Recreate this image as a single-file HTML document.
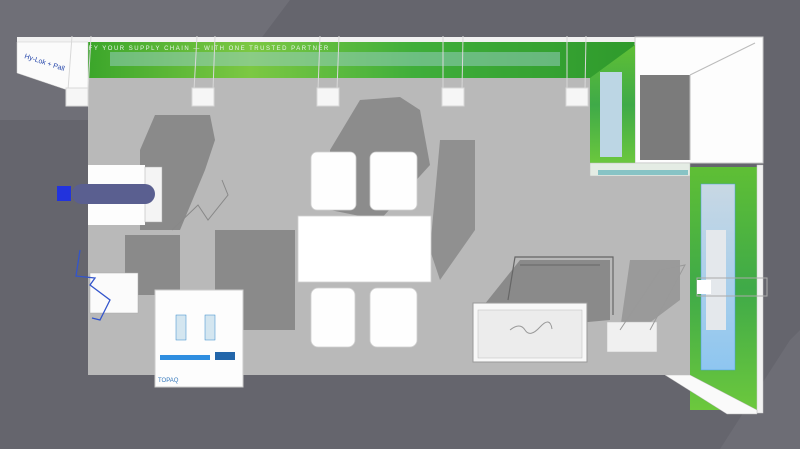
<!DOCTYPE html>
<html><head><meta charset="utf-8"><style>
html,body{margin:0;padding:0;background:#64646c;}
svg{display:block}
text{font-family:"Liberation Sans",sans-serif}
</style></head><body>
<svg width="800" height="449" viewBox="0 0 800 449" xmlns="http://www.w3.org/2000/svg">
<defs>
<linearGradient id="g1" x1="0" y1="0" x2="1" y2="0">
<stop offset="0" stop-color="#3aa52a"/><stop offset="0.3" stop-color="#7cc843"/><stop offset="0.6" stop-color="#3fae3a"/><stop offset="1" stop-color="#2f9a2c"/></linearGradient>
<linearGradient id="g2" x1="0" y1="0" x2="0" y2="1">
<stop offset="0" stop-color="#5fbf35"/><stop offset="0.5" stop-color="#3faa48"/><stop offset="1" stop-color="#6cc83d"/></linearGradient>
<linearGradient id="pst" x1="0" y1="0" x2="0" y2="1">
<stop offset="0" stop-color="#c8d8e4"/><stop offset="1" stop-color="#8ec6f0"/></linearGradient>
</defs>
<rect width="800" height="449" fill="#65656d"/>
<polygon points="0,0 290,0 200,120 0,120" fill="#6f6f77"/>
<polygon points="790,340 800,330 800,449 720,449" fill="#6d6d75"/>
<!-- floor -->
<rect x="88" y="77" width="602" height="298" fill="#b9b9b9"/>
<!-- shadows -->
<polygon points="155,115 210,115 215,140 205,170 180,230 140,230 140,150" fill="#8a8a8a"/>
<polygon points="360,100 400,97 420,110 430,165 380,220 330,210 330,150" fill="#8c8c8c"/>
<rect x="215" y="230" width="80" height="100" fill="#8a8a8a"/>
<rect x="125" y="235" width="55" height="60" fill="#8a8a8a"/>
<polygon points="440,140 475,140 475,230 440,280 430,250" fill="#909090"/>
<polygon points="520,260 610,260 610,320 500,330 480,310" fill="#8a8a8a"/>
<polygon points="630,260 680,260 680,300 640,330 620,330" fill="#9a9a9a"/>
<!-- top banner -->
<rect x="17" y="37" width="620" height="5" fill="#f2f2f2"/>
<rect x="85" y="42" width="550" height="36" fill="url(#g1)"/>
<rect x="110" y="52" width="450" height="14" fill="#9ad0c8" opacity="0.5"/>
<text x="60" y="50" font-size="6" fill="#e8f5e8" letter-spacing="1.5">SIMPLIFY YOUR SUPPLY CHAIN — WITH ONE TRUSTED PARTNER</text>
<polygon points="17,42 88,42 88,97 17,73" fill="#fbfbfb" stroke="#ccc" stroke-width="0.5"/>
<text x="24" y="58" font-size="7" fill="#2244aa" transform="rotate(18 24 58)">Hy-Lok + Pall</text>
<!-- lamps -->
<g stroke="#d8d8d8" stroke-width="1" fill="#f6f6f6">
<line x1="72" y1="36" x2="68" y2="90"/><line x1="91" y1="36" x2="88" y2="90"/><rect x="66" y="88" width="22" height="18"/>
<line x1="197" y1="36" x2="194" y2="90"/><line x1="215" y1="36" x2="213" y2="90"/><rect x="192" y="88" width="22" height="18"/>
<line x1="320" y1="36" x2="318" y2="90"/><line x1="339" y1="36" x2="337" y2="90"/><rect x="317" y="88" width="22" height="18"/>
<line x1="443" y1="36" x2="443" y2="90"/><line x1="463" y1="36" x2="462" y2="90"/><rect x="442" y="88" width="22" height="18"/>
<line x1="567" y1="36" x2="567" y2="90"/><line x1="586" y1="36" x2="585" y2="90"/><rect x="566" y="88" width="22" height="18"/>
</g>
<!-- storage room -->
<rect x="635" y="37" width="128" height="126" fill="#fdfdfd" stroke="#ccc"/>
<rect x="640" y="75" width="50" height="85" fill="#7b7b7b"/>
<line x1="690" y1="75" x2="755" y2="43" stroke="#bbb"/>
<line x1="690" y1="75" x2="690" y2="160" stroke="#bbb"/>
<polygon points="590,78 635,45 635,165 590,165" fill="url(#g2)"/>
<rect x="600" y="72" width="22" height="85" fill="#bcd6e4"/>
<rect x="590" y="163" width="100" height="13" fill="#e4ece4" stroke="#bbb" stroke-width="0.5"/>
<rect x="598" y="170" width="90" height="5" fill="#4aa8b0" opacity="0.6"/>
<!-- right wall -->
<rect x="690" y="167" width="67" height="243" fill="url(#g2)"/>
<rect x="757" y="165" width="6" height="248" fill="#f2f2f2" stroke="#ccc" stroke-width="0.5"/>
<rect x="701" y="184" width="34" height="186" fill="url(#pst)" stroke="#4aa0e0" stroke-width="0.5"/>
<rect x="706" y="230" width="20" height="100" fill="#e4e8ec"/>
<rect x="697" y="278" width="70" height="18" fill="none" stroke="#aaa"/>
<rect x="697" y="280" width="14" height="14" fill="#fff"/>
<polygon points="665,375 690,375 757,410 757,414 727,414" fill="#fafafa" stroke="#bbb" stroke-width="0.5"/>
<!-- chairs -->
<g fill="#fefefe" stroke="#cfcfcf" stroke-width="0.8">
<rect x="311" y="152" width="45" height="58" rx="6"/>
<rect x="370" y="152" width="47" height="58" rx="6"/>
<rect x="311" y="288" width="44" height="59" rx="7"/>
<rect x="370" y="288" width="47" height="59" rx="7"/>
<rect x="298" y="216" width="133" height="66" fill="#fff"/>
</g>
<!-- left desk -->
<rect x="88" y="165" width="57" height="60" fill="#fdfdfd"/>
<rect x="145" y="167" width="17" height="55" fill="#f4f4f4" stroke="#aaa" stroke-width="0.5"/>
<rect x="72" y="184" width="83" height="20" rx="10" fill="#5a5f90"/>
<rect x="57" y="186" width="14" height="15" fill="#2233dd"/>
<polyline points="222,180 228,195 208,220 198,205 172,230" fill="none" stroke="#888"/>
<!-- small cube -->
<rect x="90" y="273" width="48" height="40" fill="#fbfbfb" stroke="#aaa" stroke-width="0.5"/>
<polyline points="80,250 76,276 95,278 90,285 110,300 100,320 92,318" fill="none" stroke="#3355cc" stroke-width="1.3"/>
<!-- poster -->
<rect x="155" y="290" width="88" height="97" fill="#fdfdfd" stroke="#ccc"/>
<rect x="176" y="315" width="10" height="25" fill="#d4e6f0" stroke="#3388cc" stroke-width="0.5"/>
<rect x="205" y="315" width="10" height="25" fill="#d4e6f0" stroke="#3388cc" stroke-width="0.5"/>
<rect x="160" y="355" width="50" height="5" fill="#2f8ee0"/>
<rect x="215" y="352" width="20" height="8" fill="#2266aa"/>
<text x="158" y="382" font-size="6" fill="#3377bb">TOPAQ</text>
<!-- shelf frame -->
<polyline points="508,300 515,257 613,257 613,315" fill="none" stroke="#666" stroke-width="1.2"/>
<line x1="520" y1="265" x2="600" y2="265" stroke="#666"/>
<!-- counter -->
<rect x="473" y="303" width="114" height="59" fill="#f8f8f8" stroke="#999"/>
<rect x="478" y="310" width="104" height="48" fill="#ececec" stroke="#bbb" stroke-width="0.5"/>
<path d="M510 330 q10 -8 15 0 t15 -3 t12 2" stroke="#999" fill="none"/>
<!-- brochure stand -->
<rect x="607" y="322" width="50" height="30" fill="#f0f0f0" stroke="#bbb" stroke-width="0.5"/>
<polyline points="620,330 660,270 685,265 650,330" fill="none" stroke="#999"/>
</svg>
</body></html>
